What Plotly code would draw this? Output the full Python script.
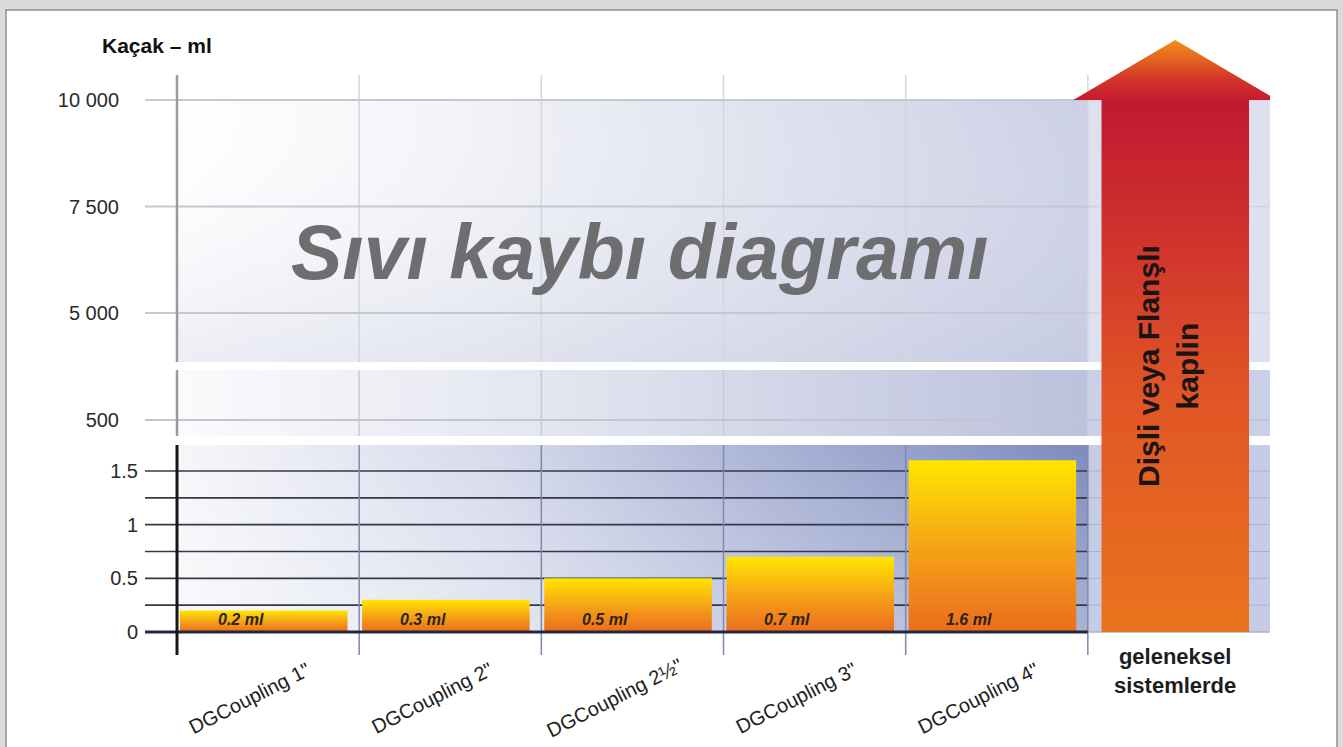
import plotly.graph_objects as go

# ---------------- data ----------------
categories = ['DGCoupling 1"', 'DGCoupling 2"', 'DGCoupling 2½"', 'DGCoupling 3"', 'DGCoupling 4"']
leak_ml = [0.2, 0.3, 0.5, 0.7, 1.6]
bar_labels = ['0.2 ml', '0.3 ml', '0.5 ml', '0.7 ml', '1.6 ml']
traditional_label = 'geleneksel<br>sistemlerde'
arrow_text = 'Dişli veya Flanşlı<br>kaplin'
traditional_ml = 10000          # off the scale (> 10 000 ml)

low_tickvals = [0, 0.5, 1, 1.5]
low_ticktext = ['0', '0.5', '1', '1.5']
low_gridvals = [0.25, 0.5, 0.75, 1.0, 1.25, 1.5]
mid_tickvals = [500]
mid_ticktext = ['500']
up_tickvals = [5000, 7500, 10000]
up_ticktext = ['5 000', '7 500', '10 000']

title_text = 'Sıvı kaybı diagramı'
yaxis_title = 'Kaçak – ml'

# ---------------- layout geometry (pixels) ----------------
W, H = 1343, 747
FONT = 'Liberation Sans, Arial, sans-serif'


def fx(p):
    return p / W


def fy(p):
    return 1 - p / H


GRID_LEFT_PX, AXIS_PX, RIGHT_PX = 145, 177, 1270
n_slots = len(categories) + 1
slot_px = (RIGHT_PX - AXIS_PX) / n_slots
x_range = [-0.5 - (AXIS_PX - GRID_LEFT_PX) / slot_px, n_slots - 0.5]
x_dom = [fx(GRID_LEFT_PX), fx(RIGHT_PX)]
last_bar_edge = len(categories) - 0.5

# lower band (0 .. 1.75)
low_dom_px = (445, 655)
low_px_per_unit = (632 - 471) / 1.5
low_range = [-(655 - 632) / low_px_per_unit, (632 - 445) / low_px_per_unit]
# middle band (500)
mid_dom_px = (370, 436)
mid_span = 300
mid_range = [500 - (436 - 420) / 66 * mid_span, 500 + (420 - 370) / 66 * mid_span]
# upper band (5000 .. 10000)
up_dom_px = (75, 362)
ml_per_px = 5000 / (313 - 100)
up_range = [5000 - (362 - 313) * ml_per_px, 10000 + (100 - 75) * ml_per_px]
# arrow overlay
arr_dom_px = (30, 632)
arr_range = [0, (632 - 30) / (632 - 100)]
ARROW_HEAD = (100 - 40) / (632 - 100)

fig = go.Figure()


def rect(xa, ya, x0, x1, y0, y1, color=None, grad=None):
    fig.add_trace(go.Scatter(
        x=[x0, x1, x1, x0, x0], y=[y0, y0, y1, y1, y0], mode='lines',
        line=dict(width=0), fill='toself', fillcolor=color, fillgradient=grad,
        xaxis=xa, yaxis=ya, hoverinfo='skip', showlegend=False))


def segs(xa, ya, pairs, color, width):
    xs, ys = [], []
    for (x0, y0), (x1, y1) in pairs:
        xs += [x0, x1, None]
        ys += [y0, y1, None]
    fig.add_trace(go.Scatter(x=xs, y=ys, mode='lines', line=dict(color=color, width=width),
                             xaxis=xa, yaxis=ya, hoverinfo='skip', showlegend=False))


boundaries = [i + 0.5 for i in range(len(categories))]

# ---------------- upper band ----------------
rect('x3', 'y3', -0.5, last_bar_edge, up_range[0], 10000,
     grad=dict(type='horizontal', colorscale=[[0, '#ffffff'], [0.3, '#f3f4f8'], [1, '#ccd0e5']]))
rect('x3', 'y3', -0.5, last_bar_edge, up_range[0], 10000,
     grad=dict(type='vertical', start=up_range[0], stop=10000,
               colorscale=[[0, 'rgba(180,186,214,0.25)'], [1, 'rgba(255,255,255,0)']]))
rect('x3', 'y3', last_bar_edge, n_slots - 0.5, up_range[0], 10000, color='#dde0ee')
segs('x3', 'y3', [((b, up_range[0]), (b, up_range[1])) for b in boundaries], '#d3d6df', 1.5)
segs('x3', 'y3', [((x_range[0], v), (last_bar_edge, v)) for v in up_tickvals], '#c6c8d0', 2)
segs('x3', 'y3', [((last_bar_edge, v), (n_slots - 0.5, v)) for v in up_tickvals], '#cfd2e0', 1.5)
segs('x3', 'y3', [((-0.5, up_range[0]), (-0.5, up_range[1]))], '#9a9a9a', 2.5)

# ---------------- middle band ----------------
rect('x2', 'y2', -0.5, last_bar_edge, mid_range[0], mid_range[1],
     grad=dict(type='horizontal', colorscale=[[0, '#fbfbfd'], [0.4, '#e4e6f0'], [1, '#bcc1dc']]))
rect('x2', 'y2', last_bar_edge, n_slots - 0.5, mid_range[0], mid_range[1], color='#cbd0e6')
segs('x2', 'y2', [((b, mid_range[0]), (b, mid_range[1])) for b in boundaries], '#c9ccd8', 1.5)
segs('x2', 'y2', [((x_range[0], v), (n_slots - 0.5, v)) for v in mid_tickvals], '#c3c5cf', 2)
segs('x2', 'y2', [((-0.5, mid_range[0]), (-0.5, mid_range[1]))], '#9a9a9a', 2.5)

# ---------------- lower band ----------------
rect('x', 'y', -0.5, last_bar_edge, 0, low_range[1],
     grad=dict(type='horizontal', colorscale=[[0, '#f7f7fa'], [0.35, '#d6daeb'], [0.7, '#a3acd2'], [1, '#7d8bbd']]))
rect('x', 'y', -0.5, last_bar_edge, 0, low_range[1],
     grad=dict(type='vertical', start=0, stop=low_range[1],
               colorscale=[[0, 'rgba(255,255,255,0.35)'], [1, 'rgba(255,255,255,0)']]))
rect('x', 'y', last_bar_edge, n_slots - 0.5, 0, low_range[1], color='#c6cce6')
segs('x', 'y', [((x_range[0], v), (last_bar_edge, v)) for v in low_gridvals], '#33384a', 1.6)
segs('x', 'y', [((last_bar_edge, v), (n_slots - 0.5, v)) for v in low_gridvals], '#a9b0cf', 1)
segs('x', 'y', [((b, low_range[0]), (b, low_range[1])) for b in boundaries], '#7f89aa', 1.5)

# bars
BAR_OFFSET, BAR_WIDTH = 0.484, 0.92
for i, (cat, v) in enumerate(zip(categories, leak_ml)):
    x0, x1 = i - BAR_OFFSET, i - BAR_OFFSET + BAR_WIDTH
    fig.add_trace(go.Scatter(
        x=[x0, x1, x1, x0, x0], y=[0, 0, v, v, 0], mode='lines', line=dict(width=0),
        fill='toself',
        fillgradient=dict(type='vertical', start=0, stop=v,
                          colorscale=[[0, '#eb6c1e'], [0.5, '#f6a417'], [1, '#ffe600']]),
        xaxis='x', yaxis='y', name=cat, showlegend=False,
        hovertemplate=f'{cat}: {v} ml<extra></extra>'))

segs('x', 'y', [((x_range[0], 0), (last_bar_edge, 0))], '#25283a', 3)
segs('x', 'y', [((last_bar_edge, 0), (n_slots - 0.5, 0))], '#aab1cf', 1.5)
segs('x', 'y', [((-0.5, low_range[0]), (-0.5, low_range[1]))], '#161616', 3)

# ---------------- arrow for traditional systems (off scale) ----------------
ac = len(categories) - 0.02
BODY_HW, HEAD_HW = 0.405, 0.56
fig.add_trace(go.Scatter(
    x=[ac - BODY_HW, ac + BODY_HW, ac + BODY_HW, ac - BODY_HW, ac - BODY_HW],
    y=[0, 0, 1, 1, 0], mode='lines', line=dict(width=0), fill='toself',
    fillgradient=dict(type='vertical', start=0, stop=1,
                      colorscale=[[0, '#ea741d'], [0.45, '#e05526'], [0.8, '#cc2c2e'], [1, '#c01a32']]),
    xaxis='x4', yaxis='y4', showlegend=False,
    hovertemplate='geleneksel sistemlerde: > %s ml<extra></extra>' % traditional_ml))
fig.add_trace(go.Scatter(
    x=[ac - HEAD_HW, ac + HEAD_HW, ac, ac - HEAD_HW],
    y=[1, 1, 1 + ARROW_HEAD, 1], mode='lines', line=dict(width=0), fill='toself',
    fillgradient=dict(type='vertical', start=1, stop=1 + ARROW_HEAD,
                      colorscale=[[0, '#c41a30'], [0.35, '#d43528'], [1, '#f3911b']]),
    xaxis='x4', yaxis='y4', showlegend=False, hoverinfo='skip'))

# ---------------- axes ----------------
common_x = dict(domain=x_dom, range=x_range, showgrid=False, zeroline=False,
                showticklabels=False, ticks='', showline=False, fixedrange=True)
tickfont = dict(family=FONT, size=20, color='#2a2a2a')
common_y = dict(showgrid=False, zeroline=False, showline=False, ticks='', tickfont=tickfont,
                fixedrange=True)
fig.update_layout(
    xaxis=dict(**common_x, anchor='y'),
    xaxis2=dict(**common_x, anchor='y2'),
    xaxis3=dict(**common_x, anchor='y3'),
    xaxis4=dict(**common_x, anchor='y4', visible=False),
    yaxis=dict(**common_y, anchor='x', domain=[fy(low_dom_px[1]), fy(low_dom_px[0])],
               range=low_range, tickvals=low_tickvals, ticktext=low_ticktext,
               ticklabelstandoff=6),
    yaxis2=dict(**common_y, anchor='x2', domain=[fy(mid_dom_px[1]), fy(mid_dom_px[0])],
                range=mid_range, tickvals=mid_tickvals, ticktext=mid_ticktext,
                ticklabelstandoff=25),
    yaxis3=dict(**common_y, anchor='x3', domain=[fy(up_dom_px[1]), fy(up_dom_px[0])],
                range=up_range, tickvals=up_tickvals, ticktext=up_ticktext,
                ticklabelstandoff=25),
    yaxis4=dict(anchor='x4', domain=[fy(arr_dom_px[1]), fy(arr_dom_px[0])], range=arr_range,
                visible=False, fixedrange=True),
)

# ---------------- texts ----------------
ann = []
ann.append(dict(text=yaxis_title, x=fx(100), y=fy(46), xref='paper', yref='paper',
                xanchor='left', yanchor='middle', showarrow=False,
                font=dict(family=FONT, size=21, color='#111111', weight='bold')))
ann.append(dict(text=title_text, x=fx(640), y=fy(252), xref='paper', yref='paper',
                xanchor='center', yanchor='middle', showarrow=False,
                font=dict(family=FONT, size=77, color='#6e6e70', weight='bold', style='italic')))
for i, cat in enumerate(categories):
    ann.append(dict(text=cat, x=i - 0.1, y=fy(698), xref='x', yref='paper',
                    xanchor='center', yanchor='middle', textangle=-27, showarrow=False,
                    font=dict(family=FONT, size=20, color='#1e1e1e')))
for i, lab in enumerate(bar_labels):
    ann.append(dict(text=lab, x=i - 0.15, y=0.12, xref='x', yref='y',
                    xanchor='center', yanchor='middle', showarrow=False,
                    font=dict(family=FONT, size=16, color='#2b2410', weight='bold', style='italic')))
ann.append(dict(text=traditional_label, x=len(categories) - 0.02, y=fy(671), xref='x', yref='paper',
                xanchor='center', yanchor='middle', showarrow=False,
                font=dict(family=FONT, size=22, color='#1e1e1e', weight='bold')))
ann.append(dict(text=arrow_text, x=ac - 0.04, y=fy(366), xref='x4', yref='paper',
                xanchor='center', yanchor='middle', textangle=-90, showarrow=False,
                font=dict(family=FONT, size=30, color='#1a1414', weight='bold')))

fig.update_layout(
    width=W, height=H, margin=dict(l=0, r=0, t=0, b=0),
    paper_bgcolor='#d9dcd8', plot_bgcolor='rgba(0,0,0,0)',
    showlegend=False, annotations=ann,
    shapes=[dict(type='rect', xref='paper', yref='paper', x0=fx(6), x1=fx(1337),
                 y0=-0.02, y1=fy(10), fillcolor='#ffffff', line=dict(color='#8e8e8e', width=1.5),
                 layer='below')],
)

fig.write_html('out.html', config={'displayModeBar': False},
               post_script="document.body.style.margin='0';")
